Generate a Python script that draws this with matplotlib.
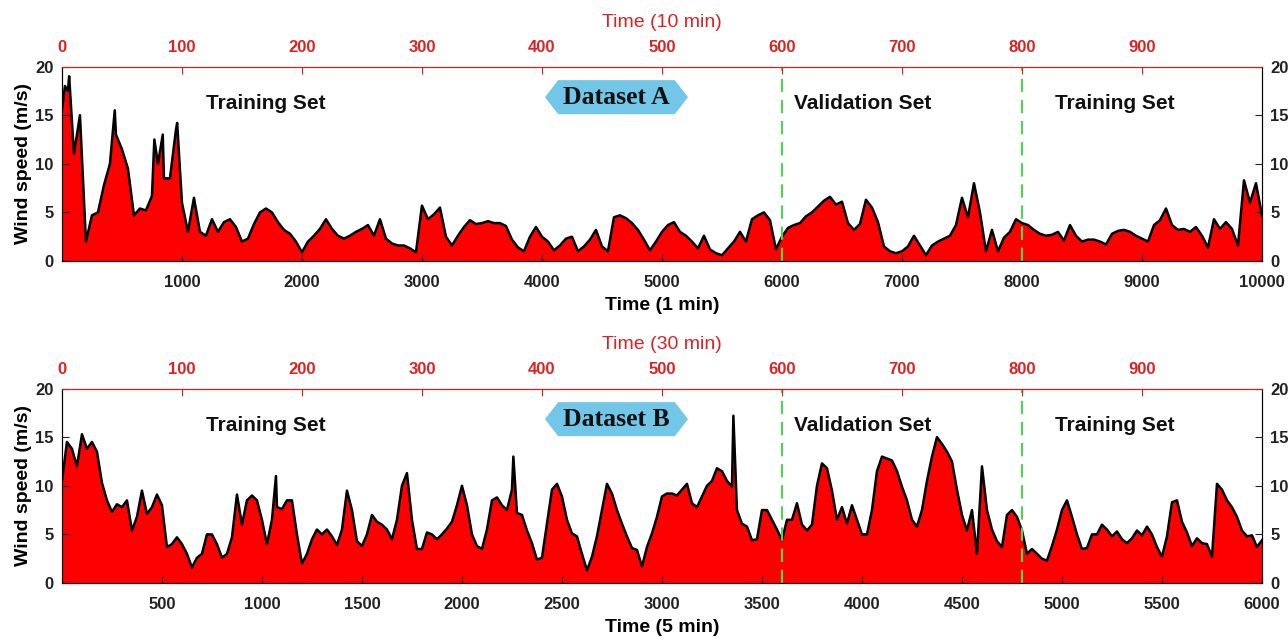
import numpy as np
import matplotlib
matplotlib.use("Agg")
import matplotlib.pyplot as plt
from matplotlib.patches import Polygon

plt.rcParams['font.family'] = ['Liberation Sans', 'DejaVu Sans']

# Dataset A: wind speed (m/s), one value every 50 min on the 1-min axis
speed_a = [
    15.5, 17.5, 11.0, 15.0, 2.0, 4.7, 5.0, 7.8, 10.0, 13.0,
    11.5, 9.5, 4.7, 5.4, 5.2, 6.7, 10.0, 8.5, 8.5, 13.5,
    6.0, 3.0, 6.5, 3.0, 2.6, 4.3, 3.0, 4.0, 4.3, 3.5,
    2.0, 2.3, 3.8, 5.0, 5.4, 5.0, 4.0, 3.2, 2.8, 2.0,
    0.9, 2.0, 2.6, 3.3, 4.3, 3.3, 2.6, 2.3, 2.6, 3.0,
    3.3, 3.7, 2.6, 4.3, 2.3, 1.8, 1.6, 1.6, 1.3, 0.9,
    5.7, 4.3, 4.8, 5.5, 2.5, 1.6, 2.6, 3.5, 4.2, 3.8,
    3.9, 4.1, 3.9, 3.9, 3.6, 2.2, 1.4, 1.0, 2.5, 3.5,
    2.5, 2.0, 1.1, 1.6, 2.3, 2.5, 1.0, 1.5, 2.2, 3.2,
    1.5, 1.0, 4.5, 4.7, 4.4, 3.9, 3.2, 2.2, 1.1, 2.0,
    3.0, 3.7, 4.0, 3.0, 2.6, 2.0, 1.3, 2.6, 1.2, 0.8,
    0.6, 1.3, 2.0, 3.0, 2.0, 4.3, 4.7, 5.0, 4.2, 1.2,
    2.5, 3.4, 3.7, 3.9, 4.6, 5.0, 5.6, 6.2, 6.6, 5.8,
    6.1, 3.9, 3.2, 3.8, 6.3, 5.5, 4.0, 1.5, 1.0, 0.8,
    1.0, 1.5, 2.6, 1.6, 0.6, 1.6, 2.0, 2.3, 2.6, 3.7,
    6.5, 4.5, 8.0, 5.0, 1.0, 3.2, 1.0, 2.4, 3.0, 4.3,
    3.9, 3.7, 3.2, 2.8, 2.6, 2.7, 3.0, 2.1, 3.7, 2.6,
    2.0, 2.2, 2.2, 2.0, 1.7, 2.8, 3.1, 3.2, 3.0, 2.6,
    2.3, 2.0, 3.7, 4.2, 5.4, 3.7, 3.2, 3.3, 3.0, 3.5,
    2.6, 1.4, 4.3, 3.3, 4.0, 3.3, 1.6, 8.3, 6.0, 8.0,
    4.7,
]
step_a = 50
spike_t_a = [25, 60, 440, 770, 840, 960]
spike_v_a = [18.0, 19.0, 15.5, 12.5, 13.0, 14.2]

# Dataset B: wind speed (m/s), one value every 25 steps on the 5-min axis
speed_b = [
    10.5, 14.5, 13.8, 12.0, 15.3, 13.8, 14.5, 13.5, 10.3, 8.5,
    7.3, 8.1, 7.8, 8.5, 5.4, 6.8, 9.5, 7.1, 7.8, 9.1,
    8.0, 3.7, 4.0, 4.7, 4.0, 3.0, 1.6, 2.6, 3.0, 5.0,
    5.0, 4.0, 2.6, 3.0, 4.7, 9.1, 6.0, 8.5, 9.0, 8.5,
    6.5, 4.0, 6.5, 7.8, 7.6, 8.5, 8.5, 5.0, 2.0, 3.0,
    4.5, 5.5, 5.0, 5.5, 4.8, 3.9, 5.5, 9.5, 7.5, 4.3,
    3.8, 5.0, 7.0, 6.3, 6.0, 5.5, 4.5, 6.5, 10.0, 11.3,
    6.5, 3.5, 3.5, 5.2, 5.0, 4.5, 5.0, 5.6, 6.3, 8.0,
    10.0, 8.0, 5.0, 3.8, 3.5, 5.5, 8.5, 8.8, 8.0, 7.5,
    9.6, 7.2, 7.0, 5.4, 4.1, 2.4, 2.6, 6.1, 9.6, 10.2,
    8.9, 6.5, 5.1, 4.8, 3.0, 1.3, 2.7, 4.8, 7.5, 10.2,
    9.2, 7.5, 6.1, 4.8, 3.6, 3.4, 1.7, 3.7, 5.1, 6.8,
    8.9, 9.2, 9.2, 9.0, 9.6, 10.2, 8.2, 7.8, 8.9, 10.0,
    10.5, 11.8, 11.5, 10.5, 9.9, 7.5, 6.1, 5.8, 4.4, 4.5,
    7.5, 7.5, 6.5, 5.5, 4.4, 6.5, 6.5, 8.2, 6.0, 5.4,
    6.0, 10.0, 12.3, 11.8, 9.5, 6.5, 7.8, 6.1, 8.0, 6.5,
    5.0, 5.0, 7.5, 11.5, 13.0, 12.8, 12.6, 11.5, 9.9, 8.5,
    6.5, 5.8, 7.5, 10.5, 13.0, 15.0, 14.3, 13.5, 12.5, 9.6,
    7.0, 5.4, 7.5, 3.0, 12.0, 7.5, 5.5, 4.3, 3.7, 7.0,
    7.5, 6.8, 5.4, 3.0, 3.5, 3.0, 2.5, 2.3, 3.8, 5.5,
    7.5, 8.5, 6.8, 5.0, 3.5, 3.6, 5.0, 5.0, 6.0, 5.5,
    4.8, 5.3, 4.5, 4.1, 4.6, 5.4, 4.9, 5.8, 5.0, 3.7,
    2.7, 4.8, 8.3, 8.5, 6.3, 5.2, 3.8, 4.6, 4.1, 4.0,
    2.7, 10.2, 9.6, 8.5, 7.8, 6.8, 5.4, 4.8, 4.9, 3.7,
    4.4,
]
step_b = 25
spike_t_b = [1070, 2257, 3357]
spike_v_b = [11.0, 13.0, 17.2]

xmax_a, xmax_b = 10000, 6000
xticks_a = list(range(1000, 10001, 1000))
xticks_b = list(range(500, 6001, 500))
top_ticks = list(range(0, 901, 100))
splits_a = [6000, 8000]
splits_b = [3600, 4800]
set_names = ['Training Set', 'Validation Set', 'Training Set']


def series(values, step, spike_t, spike_v):
    t = np.arange(len(values)) * step
    t = np.concatenate([t, spike_t])
    v = np.concatenate([values, spike_v])
    order = np.argsort(t, kind='stable')
    return t[order], v[order]


def panel(ax, t, v, xmax, xticks, splits, top_label, bottom_label, badge):
    ax.fill_between(t, 0, v, color='#ff0000', lw=0)
    ax.plot(t, v, color='black', lw=1.8)
    ax.set_xlim(0, xmax)
    ax.set_ylim(0, 20)
    ax.set_xticks(xticks)
    ax.set_yticks([0, 5, 10, 15, 20])
    ax.tick_params(direction='in', length=5, labelsize=12, colors='#222222',
                   right=True, labelright=True, top=False)
    ax.tick_params(axis='x', pad=10)
    ax.tick_params(axis='y', which='both', pad=6)
    for lab in ax.get_xticklabels() + ax.get_yticklabels():
        lab.set_fontweight('bold')
    ax.set_xlabel(bottom_label, fontsize=14, fontweight='bold', labelpad=5)
    ax.set_ylabel('Wind speed (m/s)', fontsize=14, fontweight='bold', labelpad=2)
    for s in splits:
        ax.axvline(s, color='#55d055', lw=1.6, ls=(0, (6, 3.5)))
    for sp in ['left', 'bottom', 'right']:
        ax.spines[sp].set_color('#333333')

    top = ax.twiny()
    top.set_xlim(0, 1000)
    top.set_xticks(top_ticks)
    top.tick_params(direction='in', length=5, labelsize=12, colors='#dd2222', pad=8)
    for lab in top.get_xticklabels():
        lab.set_fontweight('bold')
    top.set_xlabel(top_label, color='#dd2222', fontsize=14, labelpad=10)
    top.spines['top'].set_color('#cc2222')

    # text labels for the subsets
    for xf, name in zip([0.17, 0.6675, 0.8775], set_names):
        ax.text(xf, 0.81, name, transform=ax.transAxes, ha='center', va='center',
                fontsize=15, fontweight='bold', color='#111111')

    # badge
    x0, x1, dx = 0.4025, 0.5217, 0.011
    yb, yt = 0.755, 0.93
    yc = (yb + yt) / 2
    pts = [(x0, yc), (x0 + dx, yt), (x1 - dx, yt), (x1, yc), (x1 - dx, yb), (x0 + dx, yb)]
    ax.add_patch(Polygon(pts, closed=True, transform=ax.transAxes,
                         facecolor='#72c7e8', edgecolor='none', zorder=5))
    ax.text((x0 + x1) / 2, yc, badge, transform=ax.transAxes, ha='center', va='center',
            fontsize=18.5, fontweight='bold', family=['Liberation Serif', 'DejaVu Serif'],
            color='#111111', zorder=6)


fig = plt.figure(figsize=(12.88, 6.39), dpi=100)
ax_a = fig.add_axes([0.0481, 0.5915, 0.9317, 0.3044])
ax_b = fig.add_axes([0.0481, 0.0876, 0.9317, 0.3044])

ta, va = series(speed_a, step_a, spike_t_a, spike_v_a)
tb, vb = series(speed_b, step_b, spike_t_b, spike_v_b)

panel(ax_a, ta, va, xmax_a, xticks_a, splits_a, 'Time (10 min)', 'Time (1 min)', 'Dataset A')
panel(ax_b, tb, vb, xmax_b, xticks_b, splits_b, 'Time (30 min)', 'Time (5 min)', 'Dataset B')

fig.savefig('out.png', dpi=100)
